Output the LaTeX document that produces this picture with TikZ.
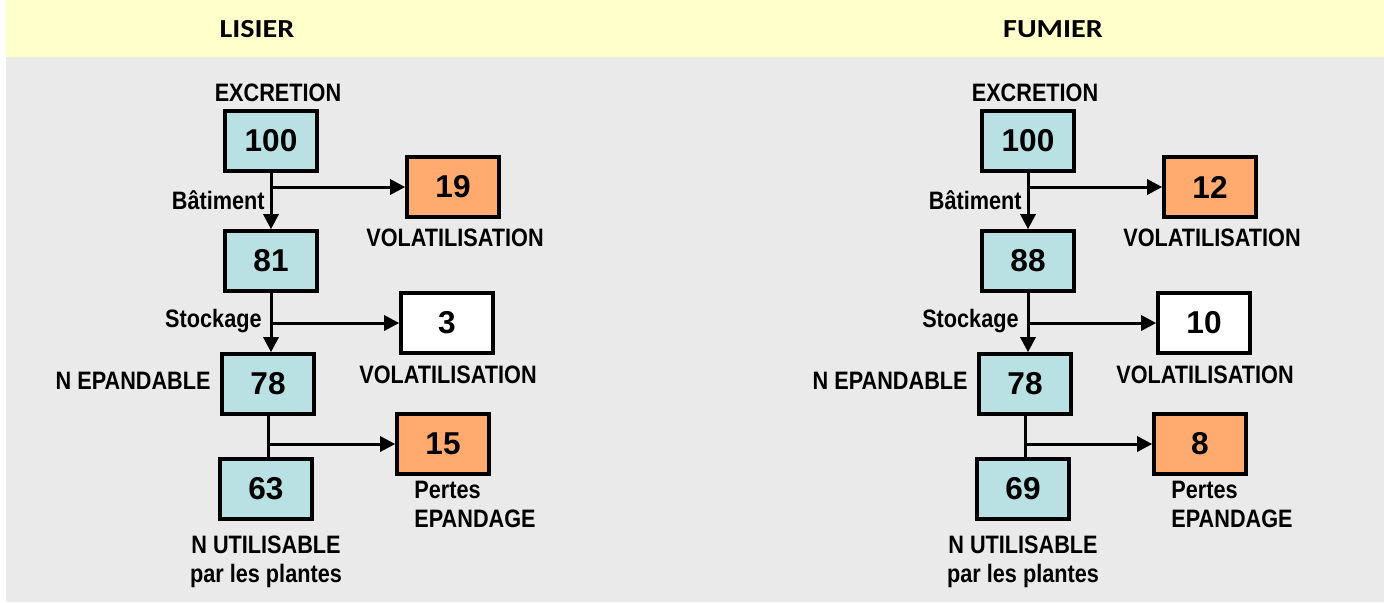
\documentclass[tikz,border=0pt]{standalone}
\usepackage{fontspec}
\setmainfont{Liberation Sans}
\newfontfamily\hdfont[FakeStretch=1.16]{Carlito}
\newfontfamily\narrowfont[FakeStretch=0.86]{Liberation Sans}
\usetikzlibrary{arrows.meta}
\definecolor{bandyellow}{HTML}{FFFFCC}
\definecolor{bggray}{HTML}{EAEAEA}
\definecolor{nblue}{HTML}{B9E1E4}
\definecolor{lossorange}{HTML}{FFAA6E}
\tikzset{
  nbox/.style={draw,line width=1.8pt,fill=nblue,minimum width=46pt,minimum height=30pt,inner sep=0pt,
    font=\bfseries\fontsize{15.8}{16}\selectfont},
  lossbox/.style={nbox,fill=lossorange},
  airbox/.style={nbox,fill=white},
  lbl/.style={font=\narrowfont\bfseries\fontsize{12.6}{14.5}\selectfont,inner sep=0pt},
  flow/.style={line width=1.5pt,-{Triangle[length=7.5pt,width=7.5pt]}}
}
\begin{document}
\begin{tikzpicture}[x=0.5pt,y=-0.5pt]
\useasboundingbox (0,0) rectangle (1384,602);
\fill[bandyellow] (6,0) rectangle (1384,57);
\fill[bggray] (6,57) rectangle (1384,602);
% two panels: lisier / fumier
\foreach \dx/\hx/\hd/\s/\u/\vb/\vs/\vp [count=\i] in {0/257/LISIER/81/63/19/3/15,757/296/FUMIER/88/69/12/10/8}{
\begin{scope}[shift={(\dx,0)}]
\node[font=\hdfont\bfseries\fontsize{13}{15}\selectfont] (hd\i) at (\hx,29) {\hd};
\node[lbl] (exc\i) at (278,93) {EXCRETION};
\node[nbox] (tot\i) at (271,141) {100};
\node[nbox] (bat\i) at (271,261) {\s};
\node[nbox] (epa\i) at (268,384) {78};
\node[nbox] (uti\i) at (266,489) {\u};
\node[lossbox] (vb\i) at (453,187) {\vb};
\node[airbox] (vs\i) at (447,323) {\vs};
\node[lossbox] (vp\i) at (443,444) {\vp};
\node[lbl] (vbl\i) at (455,238) {VOLATILISATION};
\node[lbl] (vsl\i) at (448,375) {VOLATILISATION};
\node[lbl,align=left,anchor=west] (vpl\i) at (414,504) {Pertes\\EPANDAGE};
\node[lbl,anchor=east] (batl\i) at (265,200) {Bâtiment};
\node[lbl,anchor=east] (stol\i) at (262,321) {Stockage};
\node[lbl,anchor=east] (epal\i) at (211,381) {N EPANDABLE};
\node[lbl,align=center] (util\i) at (266,562) {N UTILISABLE\\par les plantes};
\draw[flow] (tot\i) -- (bat\i);
\draw[flow] (tot\i.south |- vb\i) -- (vb\i);
\draw[flow] (bat\i.south) -- (bat\i.south |- epa\i.north);
\draw[flow] (bat\i.south |- vs\i) -- (vs\i);
\draw[line width=1.5pt] (epa\i.south) -- (epa\i.south |- uti\i.north);
\draw[flow] (epa\i.south |- vp\i) -- (vp\i);
\end{scope}
}
\end{tikzpicture}
\end{document}
